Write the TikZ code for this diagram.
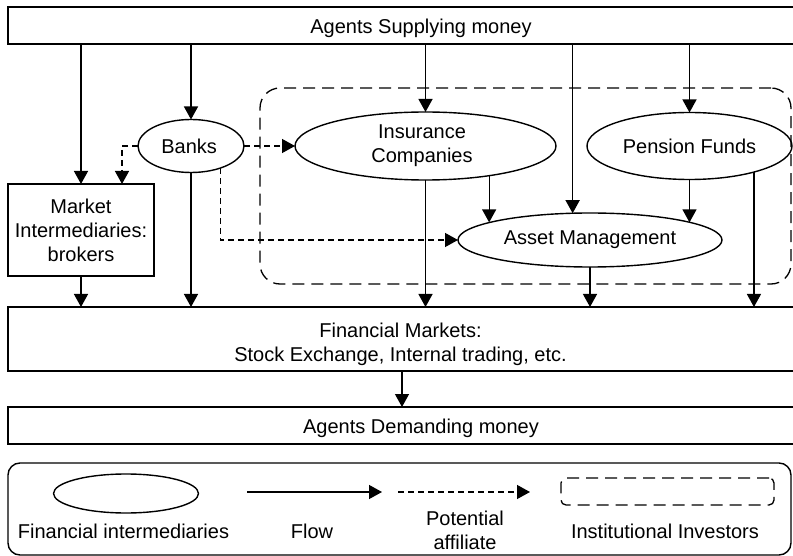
\documentclass[tikz,border=0pt]{standalone}
\usepackage{fontspec}
\setmainfont{Liberation Sans}
\usetikzlibrary{arrows.meta,shapes.geometric}
\begin{document}
\begin{tikzpicture}[x=1pt,y=-1pt,
  every node/.style={font=\fontsize{20}{24}\selectfont, inner sep=0pt, outer sep=0pt},
  box/.style={draw, line width=1.4pt, rectangle},
  fin/.style={draw, line width=1.4pt, ellipse, align=center},
  tip/.style={-{Triangle[length=13pt,width=14pt]}},
  flow/.style={line width=1.3pt, tip},
  aff/.style={line width=1.3pt, dash pattern=on 6pt off 4pt, tip},
  instbox/.style={draw, line width=1.3pt, dash pattern=on 12pt off 7pt},
]
\fill[white] (0,0) rectangle (793,556);
\clip (0,0) rectangle (793,556);

% wide bands
\node[box, minimum width=826pt, minimum height=37pt,
  label={[yshift=-3.3pt]center:Agents Supplying money}] (sup) at (421,25.5) {};
\node[box, minimum width=826pt, minimum height=64pt,
  label={[align=center, xshift=-20.5pt, yshift=-5.3pt]center:Financial Markets:\\Stock Exchange, Internal trading, etc.}] (fm) at (421,339) {};
\node[box, minimum width=826pt, minimum height=37pt,
  label={[yshift=-3.3pt]center:Agents Demanding money}] (adm) at (421,425.5) {};

% institutional investors group
\node[instbox, rounded corners=20pt, minimum width=531pt, minimum height=196pt] (inst) at (525.5,186) {};

% intermediaries
\node[box, minimum width=146pt, minimum height=92pt, align=center] (mi) at (81,230) {Market\\Intermediaries:\\brokers};
\node[fin, minimum width=106pt, minimum height=53pt] (banks) at (191,146) {Banks\hspace*{3.6pt}};
\node[fin, minimum width=261pt, minimum height=68pt] (ins) at (425.5,146) {Insurance\hspace*{7pt}\\Companies\hspace*{7pt}};
\node[fin, minimum width=205pt, minimum height=67pt] (pf) at (689.5,146) {Pension Funds};
\node[fin, minimum width=264pt, minimum height=54pt] (am) at (590,240) {Asset Management};

% flows from suppliers
\draw[flow] (sup.south -| mi.north) -- (mi.north);
\draw[flow] (sup.south -| banks.north) -- (banks.north);
\draw[flow] (sup.south -| ins.north) -- (ins.north);
\draw[flow] (sup.south -| am.123.9) -- (am.123.9);
\draw[flow] (sup.south -| pf.north) -- (pf.north);

% potential affiliates of banks
\draw[aff] (banks.west) -| ([xshift=41pt]mi.north);
\draw[aff] (banks.east) -- (ins.west);
\draw[aff] (banks.-37.4) |- (am.west);

% flows between intermediaries
\draw[flow] (ins.-25.3) -- (ins.-25.3 |- am.170.5);
\draw[flow] (pf.south) -- (pf.south |- am.10.1);

% flows into financial markets
\draw[flow] (mi.south) -- (mi.south |- fm.north);
\draw[flow] (banks.south) -- (banks.south |- fm.north);
\draw[flow] (ins.south) -- (ins.south |- fm.north);
\draw[flow] (am.south) -- (am.south |- fm.north);
\draw[flow] (pf.-22.5) -- (pf.-22.5 |- fm.north);
\draw[flow] (fm.south -| 402,0) -- (adm.north -| 402,0);

% legend
\draw[line width=1.4pt, rounded corners=12pt] (8,463) rectangle (791,555);
\node[fin, minimum width=145pt, minimum height=39pt] (lgell) at (126,493.5) {};
\node[anchor=base] (lgfin) at (123.5,538.3) {Financial intermediaries};
\coordinate (fa) at (247,492);
\coordinate (fb) at (382,492);
\draw[flow] (fa) -- (fb);
\node[anchor=base] (lgflow) at (312,538.3) {Flow};
\coordinate (pa) at (398,492);
\coordinate (pb) at (530,492);
\draw[aff] (pa) -- (pb);
\node[align=center] (lgaff) at (465,530) {Potential\\affiliate};
\node[instbox, rounded corners=5pt, minimum width=213pt, minimum height=27pt] (lgbox) at (667.5,491.5) {};
\node[anchor=base] (lginst) at (665,538.3) {Institutional Investors};
\end{tikzpicture}
\end{document}
